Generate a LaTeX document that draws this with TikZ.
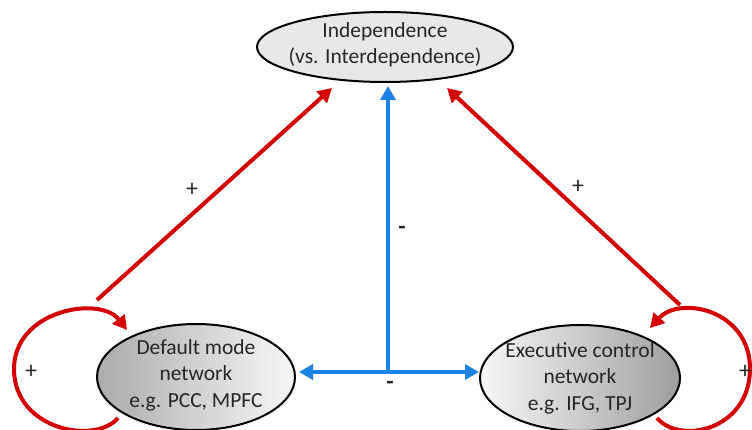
\documentclass[tikz,border=0pt]{standalone}
\usepackage{fontspec}
\setmainfont{Carlito}
\usetikzlibrary{shapes.geometric,arrows.meta}
\definecolor{myred}{RGB}{212,0,0}
\definecolor{myblue}{RGB}{28,130,228}
\definecolor{topgray}{RGB}{232,232,232}
\begin{document}
\begin{tikzpicture}[x=1pt,y=-1pt,
  ell/.style={ellipse,draw=black,line width=2pt,inner sep=0pt},
  lab/.style={font=\fontsize{21.5}{26.5}\selectfont,align=center,text=black!85},
  redarrow/.style={draw=myred,line width=4pt,-{Triangle[length=14pt,width=15pt]}},
  redloop/.style={draw=myred,line width=4pt,-{Triangle[length=14pt,width=15pt]}},
  bluearrow/.style={draw=myblue,line width=4pt,-{Triangle[length=14pt,width=15pt]}},
  sign/.style={font=\fontsize{24}{24}\selectfont,text=black!85}]
\useasboundingbox (0,0) rectangle (752,430);
\clip (0,0) rectangle (752,430);

% nodes
\node[ell, minimum width=256pt, minimum height=70pt, fill=topgray,
  label={[lab,yshift=2pt]center:{Independence\\(vs. Interdependence)}}] (top) at (385,47) {};
\node[ell, minimum width=198pt, minimum height=106pt, left color=black!33, right color=black!3,
  label={[lab,yshift=2pt]center:{Default mode\\network\\e.g. PCC, MPFC}}] (dmn) at (196,377) {};
\node[ell, minimum width=200pt, minimum height=106pt, left color=black!3, right color=black!38,
  label={[lab]center:{Executive control\\network\\e.g. IFG, TPJ}}] (ecn) at (580,378) {};

% coordinates
\coordinate (ls) at (97,300);
\coordinate (lt) at (332,88);
\coordinate (rs) at (680,305);
\coordinate (rt) at (447,88);
\coordinate (junc) at (388,372);

% red arrows
\draw[redarrow] (ls) -- (lt);
\draw[redarrow] (rs) -- (rt);

% self loops
\draw[redloop] (118,418) .. controls (95,445) and (15,430) .. (14,370)
  .. controls (13,310) and (100,295) .. (127,330);
\draw[redloop] (657,418) .. controls (680,445) and (749,430) .. (750,370)
  .. controls (751,310) and (680,295) .. (650,328);

% blue arrows
\draw[bluearrow, shorten >=3pt] (junc) -- (junc |- top.south);
\draw[bluearrow, shorten >=3pt] (junc) -- (dmn.east |- junc);
\draw[bluearrow] (junc) -- (ecn.west |- junc);

% signs
\node[sign] (p1) at (192,190) {+};
\node[sign] (p2) at (578,187) {+};
\node[sign] (p3) at (31,372) {+};
\node[sign] (p4) at (745,372) {+};
\node[sign] (m1) at (402,230) {\textbf{-}};
\node[sign] (m2) at (390,385) {\textbf{-}};
\end{tikzpicture}
\end{document}
